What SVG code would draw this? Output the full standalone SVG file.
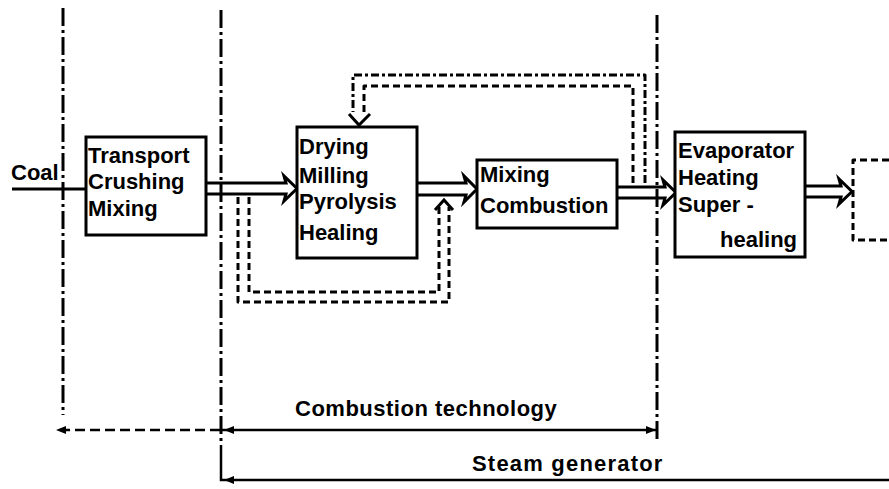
<svg xmlns="http://www.w3.org/2000/svg" width="889" height="489" viewBox="0 0 889 489">
<style>
text{font-family:"Liberation Sans",Arial,sans-serif;font-weight:bold;font-size:22px;fill:#000}
.box{fill:#fff;stroke:#000;stroke-width:3}
.dd{fill:none;stroke:#000;stroke-width:3;stroke-dasharray:18 4 3 4}
.dash{fill:none;stroke:#000;stroke-width:3;stroke-dasharray:7 4;stroke-linejoin:round}
.dash2{fill:none;stroke:#000;stroke-width:3;stroke-dasharray:8 3 3 3;stroke-linejoin:round}
.arr{fill:none;stroke:#000;stroke-width:3;stroke-linejoin:miter}
.ln{fill:none;stroke:#000;stroke-width:2.5}
.head{fill:#000;stroke:none}
</style>
<rect width="889" height="489" fill="#fff"/>
<g id="boundaries">
<path class="dd" d="M63,8 V415"/>
<path class="dd" d="M221,10 V445"/>
<path class="dd" d="M657,15 V440"/>
</g>
<g id="connectors">
<path class="arr" d="M12,189 H86"/>
<path class="arr" d="M206,183 H286 L284,176 L297,188.5 L284,201 L286,194 H206"/>
<path class="arr" d="M417,183 H466 L464,176 L477,189 L464,202 L466,195 H417"/>
<path class="arr" d="M617,187 H665 L663,180 L676,192.5 L663,205 L665,198 H617"/>
<path class="arr" d="M805,186 H841 L839,179 L852,191.5 L839,204 L841,197 H805"/>
<path class="dash" d="M238,197 V302 H449 V207"/>
<path class="dash" d="M249,197 V292 H439 V207"/>
<path class="arr" d="M435,210 L444,200 L453,210"/>
<path class="dash2" d="M645,183 V75 H353 V112"/>
<path class="dash" d="M633,183 V86 H364 V112"/>
<path class="arr" d="M349,114 L359,125 L370,114"/>
<path class="ln" d="M60,430 H221" stroke-dasharray="10 5"/>
<path class="ln" d="M221,430 H656"/>
<path class="head" d="M56,430 L66,426 L66,434 Z"/>
<path class="head" d="M224,430 L234,426 L234,434 Z"/>
<path class="head" d="M656,430 L646,426 L646,434 Z"/>
<path class="ln" d="M221,445 V480 H889"/>
<path class="head" d="M224,480 L234,476 L234,484 Z"/>
</g>
<g id="coal"><text x="11" y="180">Coal</text></g>
<g id="n1">
<rect class="box" x="86" y="137" width="120" height="98"/>
<text x="88" y="163">Transport</text>
<text x="88" y="189">Crushing</text>
<text x="88" y="216">Mixing</text>
</g>
<g id="n2">
<rect class="box" x="297" y="127" width="120" height="131" stroke-width="4"/>
<text x="299" y="154">Drying</text>
<text x="299" y="183">Milling</text>
<text x="299" y="209">Pyrolysis</text>
<text x="299" y="240">Healing</text>
</g>
<g id="n3">
<rect class="box" x="477" y="160" width="140" height="68"/>
<text x="480" y="182">Mixing</text>
<text x="480" y="213">Combustion</text>
</g>
<g id="n4">
<rect class="box" x="675" y="132" width="130" height="125"/>
<text x="678" y="158" font-size="21">Evaporator</text>
<text x="678" y="185" font-size="21">Heating</text>
<text x="678" y="212" font-size="21">Super -</text>
<text x="720" y="247" font-size="21">healing</text>
</g>
<g id="n5">
<path class="dash" d="M889,160 H853 V240 H889"/>
</g>
<g id="labels">
<text x="295" y="416" letter-spacing="0.5">Combustion technology</text>
<text x="472" y="471" letter-spacing="1.2">Steam generator</text>
</g>
</svg>
